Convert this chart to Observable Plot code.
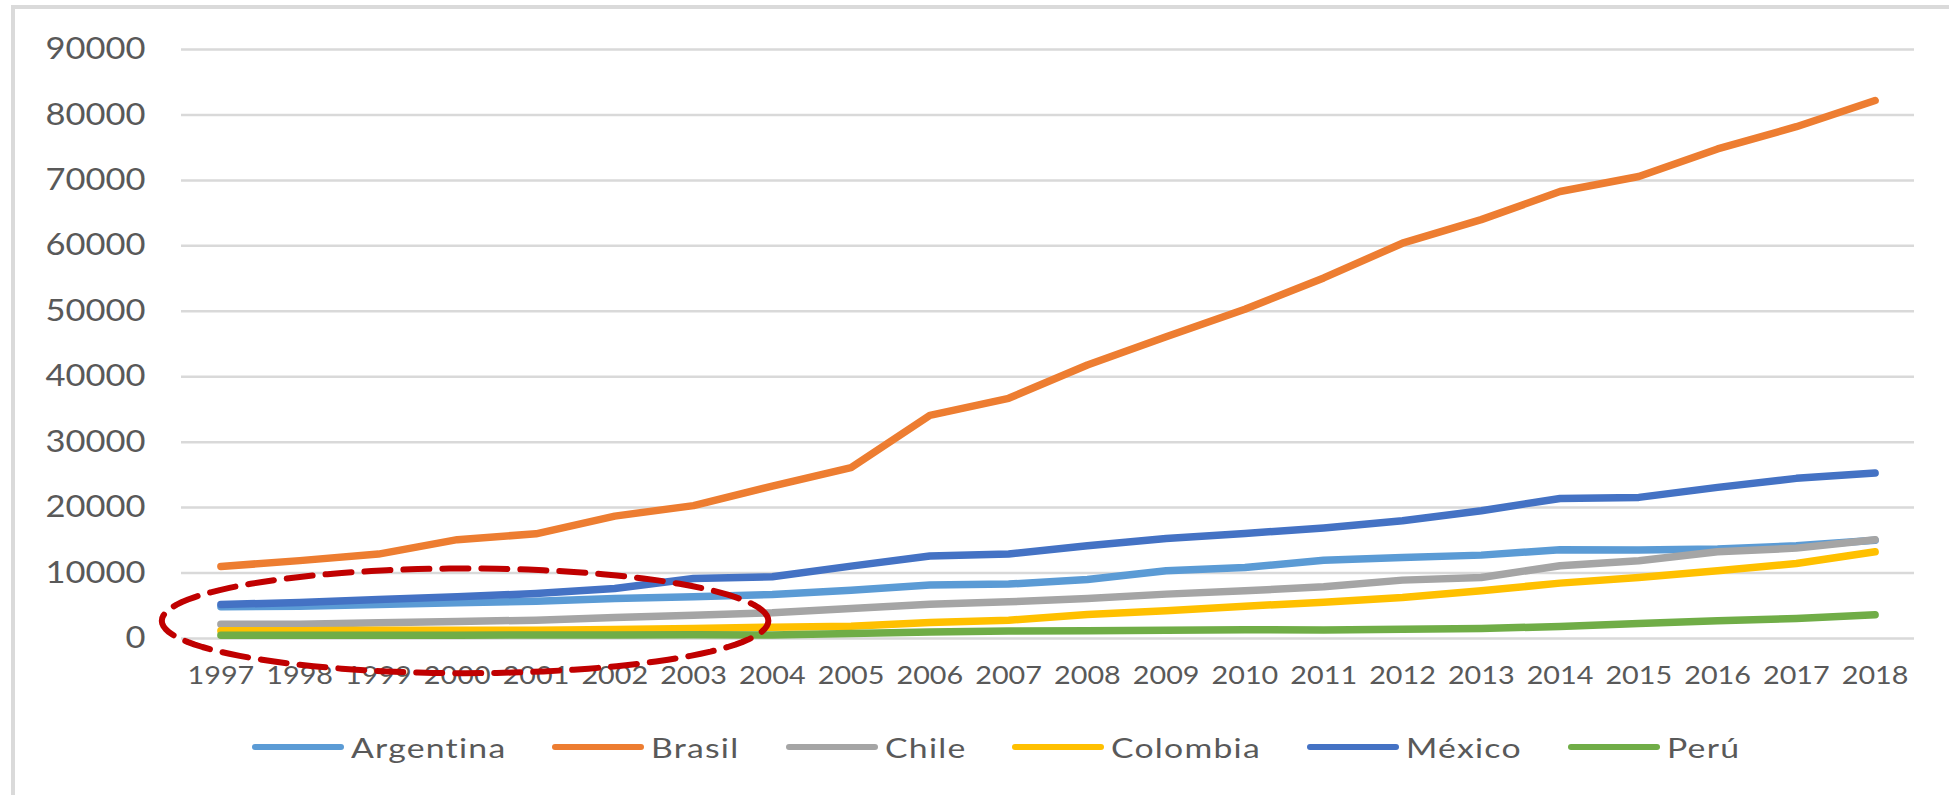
<!DOCTYPE html>
<html>
<head>
<meta charset="utf-8">
<script src="https://cdn.jsdelivr.net/npm/d3@7"></script>
<script src="https://cdn.jsdelivr.net/npm/@observablehq/plot@0.6"></script>
<style>
  html, body { margin: 0; padding: 0; background: #ffffff; }
  #frame { position: relative; width: 1949px; height: 795px; overflow: hidden; font-family: Lato, "Open Sans", sans-serif; }
  #border { position: absolute; left: 11px; top: 5px; right: -10px; bottom: -10px;
            border-top: 4px solid #dadada; border-left: 4px solid #dadada; pointer-events: none; }
  #chart { position: absolute; left: 0; top: 0; }
  #legend { position: absolute; left: 0; top: 728px; width: 1992px; height: 38px;
            display: flex; justify-content: center; align-items: center; gap: 46px; }
  .item { display: inline-flex; align-items: center; }
  .swatch { display: inline-block; width: 92px; height: 6.5px; border-radius: 3px; margin-right: 7px; }
  .name { display: inline-block; font-size: 27px; color: #595959; letter-spacing: 1px;
          transform-origin: 0 50%; line-height: 1; }
</style>
</head>
<body>
<div id="frame">
  <div id="chart"></div>
  <div id="legend"></div>
  <div id="border"></div>
</div>
<script>
// Years on the horizontal axis
const years = [1997, 1998, 1999, 2000, 2001, 2002, 2003, 2004, 2005, 2006, 2007,
               2008, 2009, 2010, 2011, 2012, 2013, 2014, 2015, 2016, 2017, 2018];

// One value per year for each country
const argentina = [4840, 4940, 5200, 5450, 5710, 6120, 6370, 6730, 7390, 8160, 8310,
                   9020, 10350, 10860, 11950, 12390, 12740, 13560, 13510, 13660, 14170, 15000];
const brasil    = [11000, 11900, 12900, 15100, 16000, 18700, 20300, 23300, 26100, 34100, 36700,
                   41800, 46100, 50300, 55100, 60400, 64000, 68300, 70600, 74800, 78200, 82200];
const chile     = [2190, 2190, 2400, 2600, 2800, 3210, 3570, 3920, 4590, 5250, 5610,
                   6120, 6780, 7290, 7900, 8920, 9330, 11110, 11880, 13250, 13810, 15090];
const colombia  = [1170, 1170, 1270, 1270, 1270, 1380, 1530, 1730, 1890, 2450, 2800,
                   3670, 4230, 4940, 5550, 6270, 7290, 8460, 9330, 10350, 11470, 13250];
const mexico    = [5200, 5500, 5960, 6370, 6880, 7650, 9170, 9430, 11060, 12600, 12900,
                   14170, 15290, 16050, 16900, 17990, 19520, 21400, 21560, 23090, 24470, 25280];
const peru      = [500, 500, 500, 510, 520, 540, 560, 520, 760, 1000, 1150,
                   1200, 1250, 1350, 1300, 1430, 1530, 1830, 2290, 2700, 3060, 3620];

const countries = ["Argentina", "Brasil", "Chile", "Colombia", "México", "Perú"];
const seriesValues = [argentina, brasil, chile, colombia, mexico, peru];
const palette = ["#5B9BD5", "#ED7D31", "#A5A5A5", "#FFC000", "#4472C4", "#70AD47"];

// Value axis ticks
const yTicks = [0, 10000, 20000, 30000, 40000, 50000, 60000, 70000, 80000, 90000];

// Dashed ellipse highlighting the early years of the smaller economies
const highlight = { year: 2000.1, value: 2700, halfYears: 3.85, halfValue: 8000 };

// Long table for the line mark
const rows = countries.flatMap((c, k) =>
  years.map((yr, i) => ({ country: c, year: yr, value: seriesValues[k][i] })));

// Outline of the highlight ellipse in data coordinates
const ellipsePts = d3.range(0, 360, 3).map(a => {
  const t = a * Math.PI / 180;
  return { year: highlight.year + highlight.halfYears * Math.cos(t),
           value: highlight.value + highlight.halfValue * Math.sin(t) };
});

const chart = Plot.plot({
  width: 1949,
  height: 700,
  marginLeft: 181,
  marginRight: 35,
  marginTop: 49,
  marginBottom: 62,
  style: { fontFamily: "Lato, 'Open Sans', sans-serif", color: "#595959", background: "transparent", overflow: "visible" },
  x: { type: "linear", domain: [1996.5, 2018.5] },
  y: { domain: [0, 90000] },
  color: { domain: countries, range: palette },
  marks: [
    Plot.gridY(yTicks, { stroke: "#d9d9d9", strokeOpacity: 1, strokeWidth: 2.5 }),
    Plot.axisY(yTicks, { tickSize: 0, tickPadding: 36, fontSize: 30, label: null, tickFormat: d => String(d) }),
    Plot.axisX(years, { tickSize: 0, tickPadding: 28, fontSize: 25, label: null, tickFormat: d => String(d) }),
    Plot.line(rows, { x: "year", y: "value", z: "country", stroke: "country",
                      strokeWidth: 7.5, strokeLinecap: "round", strokeLinejoin: "round" }),
    Plot.line(ellipsePts, { x: "year", y: "value", curve: "linear-closed",
                            stroke: "#C00000", strokeWidth: 6, strokeDasharray: "26 13" })
  ]
});
document.getElementById("chart").appendChild(chart);

// Widen the tick label glyphs around their anchor points
chart.querySelectorAll('g[aria-label$="tick label"] text').forEach(t => {
  const px = parseFloat(t.getAttribute("x")) || 0;
  const py = parseFloat(t.getAttribute("y")) || 0;
  const old = t.getAttribute("transform") || "";
  t.setAttribute("transform", `${old} translate(${px},${py}) scale(1.15,1) translate(${-px},${-py})`);
});

// Legend with line swatches below the chart
const legend = document.getElementById("legend");
const stretch = 1.25;
countries.forEach((c, k) => {
  const item = document.createElement("span");
  item.className = "item";
  const sw = document.createElement("span");
  sw.className = "swatch";
  sw.style.background = palette[k];
  const name = document.createElement("span");
  name.className = "name";
  name.textContent = c;
  item.appendChild(sw);
  item.appendChild(name);
  legend.appendChild(item);
  name.style.transform = `scaleX(${stretch})`;
  name.style.marginRight = `${name.offsetWidth * (stretch - 1)}px`;
});
</script>
</body>
</html>
